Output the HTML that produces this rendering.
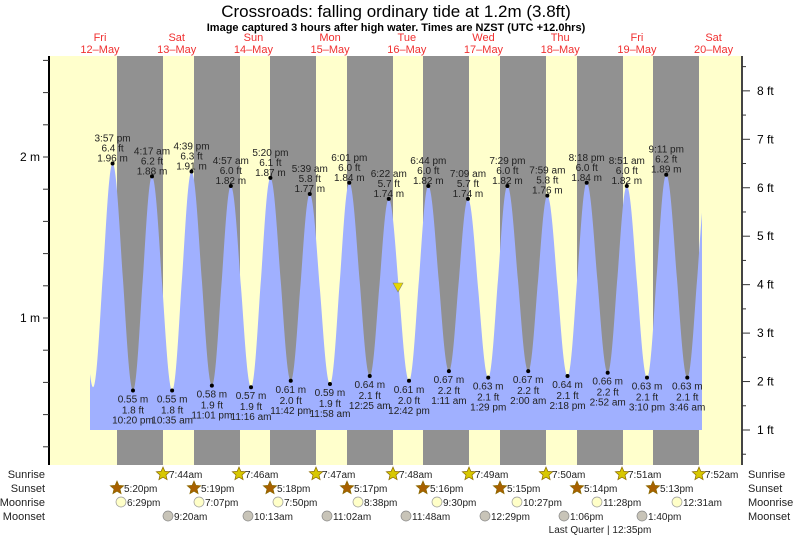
<!DOCTYPE html>
<html><head><meta charset="utf-8"><style>
body{margin:0;background:#fff}
svg{display:block;font-family:"Liberation Sans",sans-serif}
</style></head><body>
<svg id="s" width="793" height="538" xmlns="http://www.w3.org/2000/svg">
<rect x="49" y="56" width="693" height="409" fill="#ffffcc"/>
<g id="night" fill="#919191"></g>
<path id="tide" fill="#a0b0ff"/>
<g id="lab" font-size="10" fill="#222" text-anchor="middle"></g>
<polygon points="393,283 403,283 398,292" fill="#e8d800" stroke="#886" stroke-width="0.6"/>
<line x1="49" y1="56" x2="49" y2="465" stroke="#000" stroke-width="2"/>
<line x1="742" y1="56" x2="742" y2="465" stroke="#444" stroke-width="2"/>
<g id="ticks" stroke="#333" stroke-width="1"></g>
<g font-size="12" fill="#000">
<text x="40" y="161" text-anchor="end">2 m</text>
<text x="40" y="322" text-anchor="end">1 m</text>
</g>
<g id="ftl" font-size="12" fill="#000"></g>
<text x="396" y="17" font-size="17" text-anchor="middle">Crossroads: falling  ordinary tide at 1.2m (3.8ft)</text>
<text x="396" y="31" font-size="11" font-weight="bold" text-anchor="middle">Image captured 3 hours after high water. Times are NZST (UTC +12.0hrs)</text>
<g id="days" font-size="11" fill="#f03030" text-anchor="middle"></g>
<g font-size="11" fill="#222">
<text x="45" y="478" text-anchor="end">Sunrise</text>
<text x="45" y="492" text-anchor="end">Sunset</text>
<text x="45" y="506" text-anchor="end">Moonrise</text>
<text x="45" y="520" text-anchor="end">Moonset</text>
<text x="748" y="478">Sunrise</text>
<text x="748" y="492">Sunset</text>
<text x="748" y="506">Moonrise</text>
<text x="748" y="520">Moonset</text>
<text x="600" y="533" font-size="10" text-anchor="middle">Last Quarter | 12:35pm</text>
</g>
<g id="ev" font-size="10" fill="#222"></g>
</svg>
<script>
var NS="http://www.w3.org/2000/svg";
function el(p,t,a,txt){var e=document.createElementNS(NS,t);for(var k in a)e.setAttribute(k,a[k]);if(txt!=null)e.textContent=txt;document.getElementById(p).appendChild(e);return e;}
function X(t){return 61.6+t*3.196;}
function Y(m){return 479-161*m;}
var nights=[117,194,270,347,423,500,577,653];
nights.forEach(function(x){el("night","rect",{x:x,y:56,width:46,height:409});});
var dn=["Fri","Sat","Sun","Mon","Tue","Wed","Thu","Fri","Sat"];
for(var i=0;i<9;i++){var cx=100+i*76.7;el("days","text",{x:cx,y:41},dn[i]);el("days","text",{x:cx,y:53},(12+i)+"\u2013May");}
function hm(d,h,m){return (d-12)*24+h+m/60;}
var E=[[hm(12,3,40),1.85,""],[hm(12,9,51),0.57,""],
[hm(12,15,57),1.96,"3:57 pm|6.4 ft"],[hm(12,22,20),0.55,"10:20 pm|1.8 ft"],
[hm(13,4,17),1.88,"4:17 am|6.2 ft"],[hm(13,10,35),0.55,"10:35 am|1.8 ft"],
[hm(13,16,39),1.91,"4:39 pm|6.3 ft"],[hm(13,23,1),0.58,"11:01 pm|1.9 ft"],
[hm(14,4,57),1.82,"4:57 am|6.0 ft"],[hm(14,11,16),0.57,"11:16 am|1.9 ft"],
[hm(14,17,20),1.87,"5:20 pm|6.1 ft"],[hm(14,23,42),0.61,"11:42 pm|2.0 ft"],
[hm(15,5,39),1.77,"5:39 am|5.8 ft"],[hm(15,11,58),0.59,"11:58 am|1.9 ft"],
[hm(15,18,1),1.84,"6:01 pm|6.0 ft"],[hm(16,0,25),0.64,"12:25 am|2.1 ft"],
[hm(16,6,22),1.74,"6:22 am|5.7 ft"],[hm(16,12,42),0.61,"12:42 pm|2.0 ft"],
[hm(16,18,44),1.82,"6:44 pm|6.0 ft"],[hm(17,1,11),0.67,"1:11 am|2.2 ft"],
[hm(17,7,9),1.74,"7:09 am|5.7 ft"],[hm(17,13,29),0.63,"1:29 pm|2.1 ft"],
[hm(17,19,29),1.82,"7:29 pm|6.0 ft"],[hm(18,2,0),0.67,"2:00 am|2.2 ft"],
[hm(18,7,59),1.76,"7:59 am|5.8 ft"],[hm(18,14,18),0.64,"2:18 pm|2.1 ft"],
[hm(18,20,18),1.84,"8:18 pm|6.0 ft"],[hm(19,2,52),0.66,"2:52 am|2.2 ft"],
[hm(19,8,51),1.82,"8:51 am|6.0 ft"],[hm(19,15,10),0.63,"3:10 pm|2.1 ft"],
[hm(19,21,11),1.89,"9:11 pm|6.2 ft"],[hm(20,3,46),0.63,"3:46 am|2.1 ft"],
[hm(20,9,50),1.83,""]];
function lvl(t){for(var i=0;i<E.length-1;i++){var a=E[i],b=E[i+1];if(t>=a[0]&&t<=b[0]){var s=(t-a[0])/(b[0]-a[0]);var c=Math.cos(Math.PI*s);var cp=(c<0?-1:1)*Math.pow(Math.abs(c),1.1);var mid=(a[1]+b[1])/2,h=(a[1]-b[1])/2;return mid+h*cp;}}return 1;}
var d="M90,430";for(var x=90;x<=702;x+=0.5){var t=(x-61.6)/3.196;d+=" L"+x+","+Y(lvl(t)).toFixed(1);}
d+=" L702,430 Z";document.getElementById("tide").setAttribute("d",d);
E.forEach(function(e){if(!e[2])return;var x=X(e[0]),y=Y(e[1]);var p=e[2].split("|");el("lab","circle",{cx:x,cy:y,r:2,fill:"#000"});
var mt=e[1].toFixed(2)+" m";
if(e[1]>1){el("lab","text",{x:x,y:y-22},p[0]);el("lab","text",{x:x,y:y-12},p[1]);el("lab","text",{x:x,y:y-2},mt);}
else{el("lab","text",{x:x,y:y+12},mt);el("lab","text",{x:x,y:y+23},p[1]);el("lab","text",{x:x,y:y+33},p[0]);}});
for(var m=0.2;m<2.65;m+=0.2){var y=Y(m);if(y<56||y>465)continue;el("ticks","line",{x1:43,y1:y,x2:49,y2:y});}
for(var f=0.5;f<=8.6;f+=0.5){var y=430-(f-1)*48.45;if(y<56||y>465)continue;var L=(f%1==0)?8:4;el("ticks","line",{x1:742,y1:y,x2:742+L,y2:y});if(f%1==0)el("ftl","text",{x:757,y:y+4},f+" ft");}
function star(x,y,fill){var pts=[];for(var i=0;i<10;i++){var r=i%2?3.2:7;var a=-Math.PI/2+i*Math.PI/5;pts.push((x+r*Math.cos(a)).toFixed(1)+","+(y+r*Math.sin(a)).toFixed(1));}el("ev","polygon",{points:pts.join(" "),fill:fill,stroke:"#8a6a00","stroke-width":0.7});}
[[163,"7:44am"],[239,"7:46am"],[316,"7:47am"],[393,"7:48am"],[469,"7:49am"],[546,"7:50am"],[622,"7:51am"],[699,"7:52am"]].forEach(function(a){star(a[0],474,"#d8c800");el("ev","text",{x:a[0]+6,y:478},a[1]);});
[[117,"5:20pm"],[194,"5:19pm"],[270,"5:18pm"],[347,"5:17pm"],[423,"5:16pm"],[500,"5:15pm"],[577,"5:14pm"],[653,"5:13pm"]].forEach(function(a){star(a[0],488,"#a86000");el("ev","text",{x:a[0]+7,y:492},a[1]);});
[[121,"6:29pm"],[199,"7:07pm"],[278,"7:50pm"],[358,"8:38pm"],[437,"9:30pm"],[517,"10:27pm"],[597,"11:28pm"],[677,"12:31am"]].forEach(function(a){el("ev","circle",{cx:a[0],cy:502,r:5,fill:"#ffffc8",stroke:"#999","stroke-width":0.7});el("ev","text",{x:a[0]+6,y:506},a[1]);});
[[168,"9:20am"],[248,"10:13am"],[327,"11:02am"],[406,"11:48am"],[485,"12:29pm"],[564,"1:06pm"],[642,"1:40pm"]].forEach(function(a){el("ev","circle",{cx:a[0],cy:516,r:5,fill:"#c8c4b8",stroke:"#888","stroke-width":0.7});el("ev","text",{x:a[0]+6,y:520},a[1]);});
</script>
</body></html>
